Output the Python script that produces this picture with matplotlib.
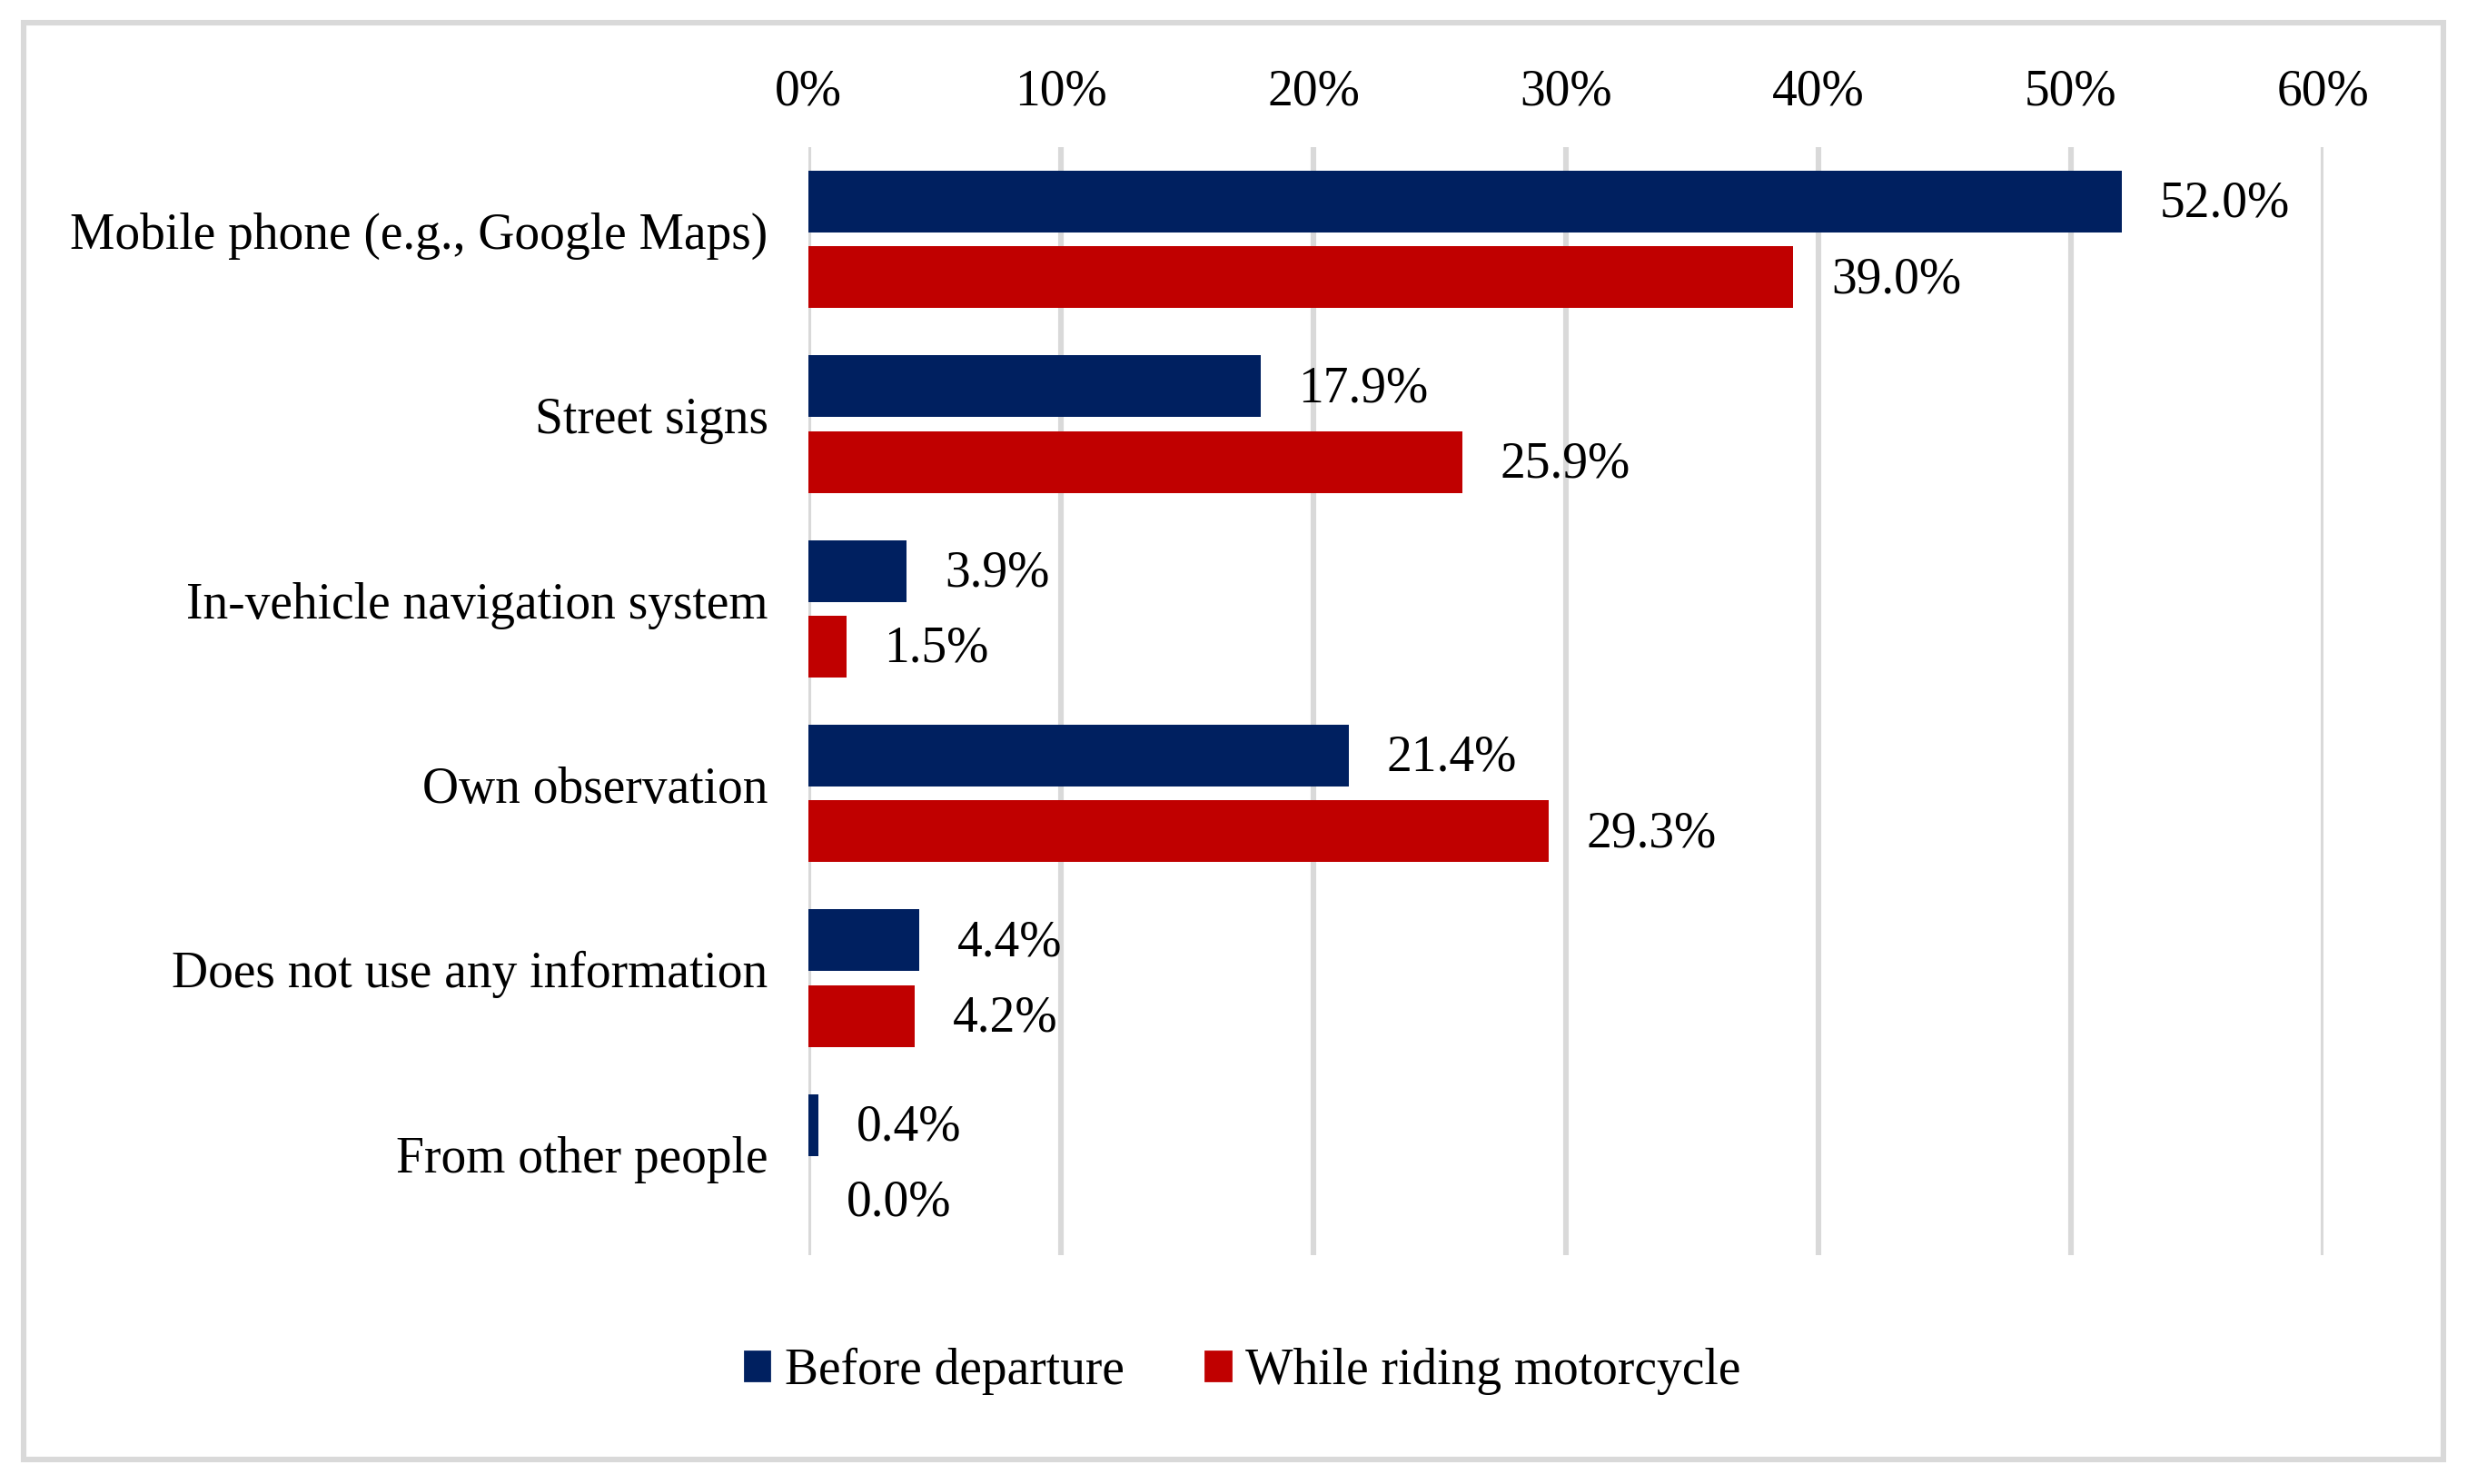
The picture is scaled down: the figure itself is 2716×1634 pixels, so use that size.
import matplotlib
matplotlib.use("Agg")
import matplotlib.pyplot as plt
import matplotlib.transforms as mtransforms
from matplotlib.patches import Rectangle, Patch
import numpy as np

plt.rcParams['font.family'] = ['Liberation Serif', 'DejaVu Serif']

categories = ["Mobile phone (e.g., Google Maps)", "Street signs", "In-vehicle navigation system",
              "Own observation", "Does not use any information", "From other people"]
before = [52.0, 17.9, 3.9, 21.4, 4.4, 0.4]
riding = [39.0, 25.9, 1.5, 29.3, 4.2, 0.0]
series_names = ["Before departure", "While riding motorcycle"]
xticks = [0, 10, 20, 30, 40, 50, 60]

BLUE = "#002060"
RED = "#C00000"
GRID = "#D9D9D9"
FS = 20

fig = plt.figure(figsize=(13.58, 8.17), dpi=200)
ax = fig.add_axes([0.3277, 0.1542, 0.9418 - 0.3277, 0.9009 - 0.1542])

y = np.arange(len(categories))
h = 0.335
off = 0.205
ax.barh(y - off, before, height=h, color=BLUE, zorder=3)
ax.barh(y + off, riding, height=h, color=RED, zorder=3)

for yi, v in zip(y, before):
    ax.annotate(f"{v:.1f}%", (v, yi - off), xytext=(15, -1), textcoords='offset points',
                va='center', ha='left', fontsize=FS)
for yi, v in zip(y, riding):
    ax.annotate(f"{v:.1f}%", (v, yi + off), xytext=(15, -1), textcoords='offset points',
                va='center', ha='left', fontsize=FS)

ax.set_xlim(0, 60)
ax.set_ylim(len(categories) - 0.5, -0.5)
ax.set_xticks(xticks)
ax.set_xticklabels([f"{t}%" for t in xticks], fontsize=FS)
ax.xaxis.tick_top()
ax.tick_params(axis='x', length=0, pad=12.5)
ax.set_yticks(y)
ax.set_yticklabels(categories, fontsize=FS)
ax.tick_params(axis='y', length=0, pad=16)
shift = mtransforms.ScaledTranslation(0, 3.5 / 72, fig.dpi_scale_trans)
for lab in ax.get_yticklabels():
    lab.set_transform(lab.get_transform() + shift)
ax.grid(axis='x', color=GRID, linewidth=2.2, zorder=0)
for s in ax.spines.values():
    s.set_visible(False)

handles = [Patch(color=BLUE), Patch(color=RED)]
fig.legend(handles, series_names, loc='center', bbox_to_anchor=(0.5037, 0.076), ncol=2,
           frameon=False, fontsize=FS, handlelength=0.5, handleheight=0.5,
           handletextpad=0.3, columnspacing=1.6)

fig.add_artist(Rectangle((26 / 2716, 1 - 1607 / 1634), (2690 - 26) / 2716, (1607 - 25) / 1634,
                         transform=fig.transFigure, fill=False, edgecolor=GRID, linewidth=2.2))

fig.savefig("out.png", dpi=200, facecolor="white")
